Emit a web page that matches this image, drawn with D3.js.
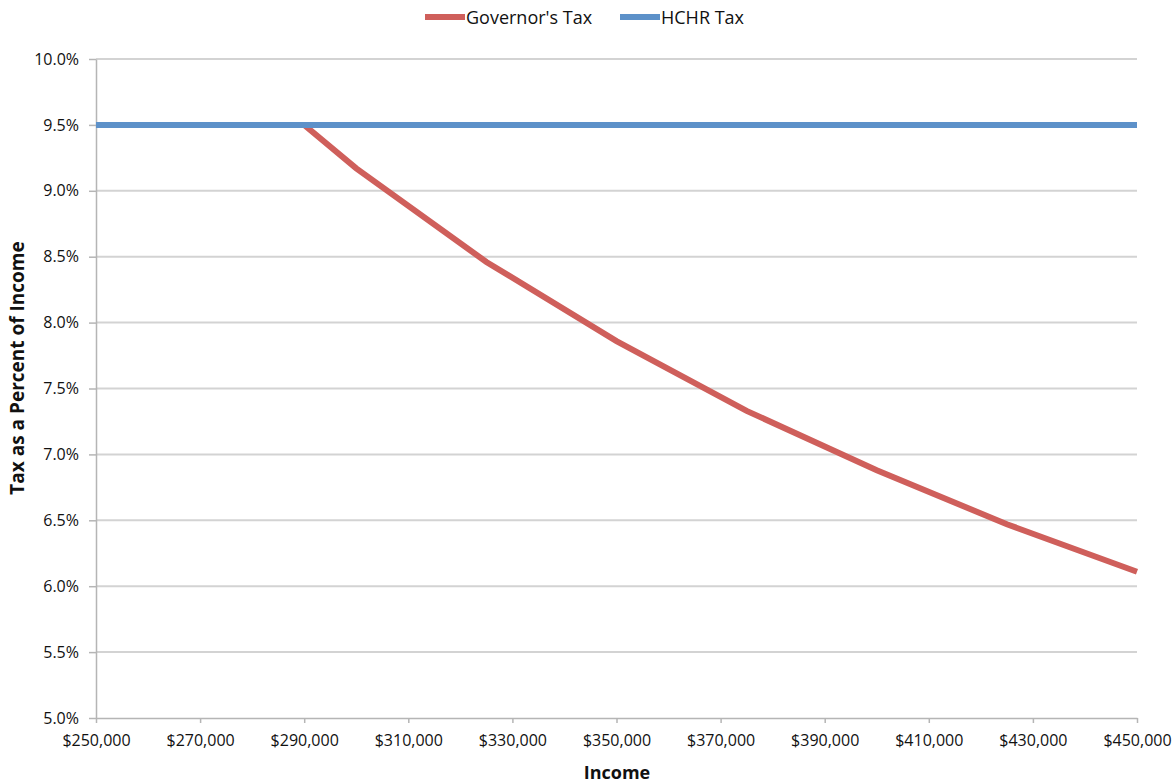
<!DOCTYPE html>
<html>
<head>
<meta charset="utf-8">
<script src="https://cdn.jsdelivr.net/npm/d3@7"></script>
<style>
  body { margin: 0; background: #fff; }
  svg text { font-family: "Open Sans", "Noto Sans", sans-serif; fill: #111; }
</style>
</head>
<body>
<section></section>
<script>
// income points (dollars)
const incomes = [250000, 260000, 270000, 280000, 290000, 300000, 325000, 350000, 375000, 400000, 425000, 450000];
// tax as % of income
const governorsTax = [9.5, 9.5, 9.5, 9.5, 9.5, 9.17, 8.46, 7.86, 7.33, 6.88, 6.47, 6.11];
const hchrTax = [9.5, 9.5, 9.5, 9.5, 9.5, 9.5, 9.5, 9.5, 9.5, 9.5, 9.5, 9.5];
const xTicks = [250000, 270000, 290000, 310000, 330000, 350000, 370000, 390000, 410000, 430000, 450000];
const yTicks = [5.0, 5.5, 6.0, 6.5, 7.0, 7.5, 8.0, 8.5, 9.0, 9.5, 10.0];

const width = 1176, height = 784;
const mLeft = 96, mRight = 1137, mTop = 59, mBottom = 718;

const svg = d3.select('section')
    .append('svg')
    .attr('width', width)
    .attr('height', height);

const xScale = d3.scaleLinear().domain([250000, 450000]).range([mLeft, mRight]);
const yScale = d3.scaleLinear().domain([5, 10]).range([mBottom, mTop]);

// gridlines
svg.append('g')
    .selectAll('line')
    .data(yTicks.filter(d => d > 5))
    .enter()
    .append('line')
    .attr('x1', mLeft)
    .attr('x2', mRight)
    .attr('y1', d => yScale(d))
    .attr('y2', d => yScale(d))
    .attr('stroke', '#d3d3d3')
    .attr('stroke-width', 2);

const fmtMoney = d => '$' + d3.format(',')(d);

const xAxis = svg.append('g')
    .attr('transform', `translate(0,${mBottom})`)
    .call(d3.axisBottom(xScale).tickValues(xTicks).tickFormat(fmtMoney).tickSize(5).tickSizeOuter(0));
const yAxis = svg.append('g')
    .attr('transform', `translate(${mLeft},0)`)
    .call(d3.axisLeft(yScale).tickValues(yTicks).tickFormat(d => d.toFixed(1) + '%').tickSize(7).tickSizeOuter(0));

[xAxis, yAxis].forEach(a => {
    a.selectAll('path, line').attr('stroke', '#b5b5b5').attr('stroke-width', 1.5);
    a.selectAll('text').style('font-size', '16px').attr('fill', '#111');
});
xAxis.selectAll('text').attr('y', 15).attr('dy', '0.8em');
yAxis.selectAll('text').attr('x', -17);

const line = d3.line()
    .x((d, i) => xScale(incomes[i]))
    .y(d => yScale(d));

svg.append('path')
    .datum(governorsTax)
    .attr('d', line)
    .attr('fill', 'none')
    .attr('stroke', '#cf5f5b')
    .attr('stroke-width', 6);

svg.append('path')
    .datum(hchrTax)
    .attr('d', line)
    .attr('fill', 'none')
    .attr('stroke', '#5d91c9')
    .attr('stroke-width', 6);

// axis titles
svg.append('text')
    .attr('x', 617)
    .attr('y', 779)
    .attr('text-anchor', 'middle')
    .style('font-size', '18px')
    .style('font-weight', 'bold')
    .text('Income');

svg.append('text')
    .attr('transform', 'translate(24,368) rotate(-90)')
    .attr('text-anchor', 'middle')
    .style('font-size', '19px')
    .style('font-weight', 'bold')
    .text('Tax as a Percent of Income');

// legend
const legend = [
    { name: "Governor's Tax", color: '#cf5f5b', x: 425 },
    { name: 'HCHR Tax', color: '#5d91c9', x: 620 }
];
const lg = svg.append('g').selectAll('g').data(legend).enter().append('g');
lg.append('line')
    .attr('x1', d => d.x).attr('x2', d => d.x + 40)
    .attr('y1', 17).attr('y2', 17)
    .attr('stroke', d => d.color)
    .attr('stroke-width', 6);
lg.append('text')
    .attr('x', d => d.x + 41)
    .attr('y', 24)
    .style('font-size', '18px')
    .text(d => d.name);
</script>
</body>
</html>
